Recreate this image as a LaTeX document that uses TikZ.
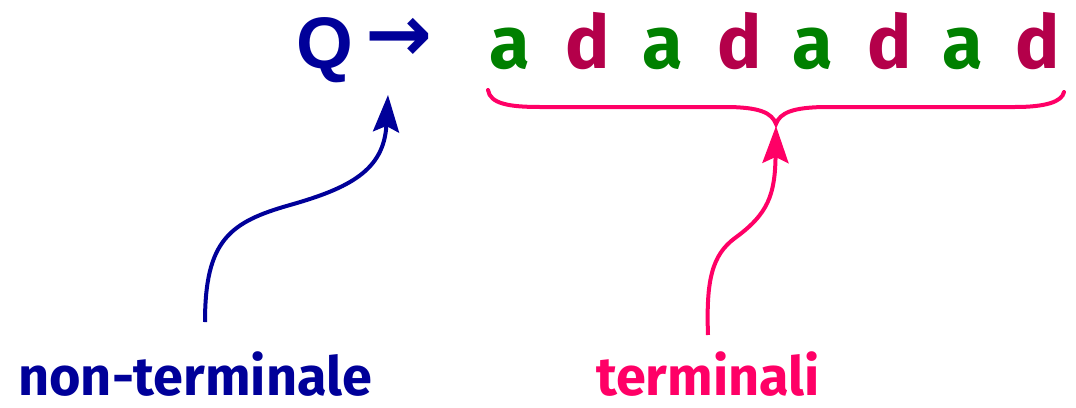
\documentclass[tikz,border=0pt]{standalone}
\usepackage{fontspec}
\setmainfont{Fira Sans}
\newfontfamily\qfont{Liberation Sans}
\newfontfamily\arrfont{DejaVu Sans}
\usetikzlibrary{arrows.meta}
\definecolor{navy}{HTML}{000099}
\definecolor{tgreen}{HTML}{008000}
\definecolor{tcrim}{HTML}{B4004A}
\definecolor{tpink}{HTML}{FF0066}
\tikzset{
  letter/.style={anchor=base, inner sep=0pt, font=\fontsize{74}{80}\selectfont\bfseries},
  lta/.style={letter, text=tgreen},
  ltd/.style={letter, text=tcrim},
  lbl/.style={anchor=base, inner sep=0pt, font=\fontsize{54}{60}\selectfont\bfseries},
  conn/.style={line width=4pt, -{Stealth[length=37pt, width=26pt, inset=6pt]}},
}
\begin{document}
\begin{tikzpicture}[x=1pt,y=-1pt]
\useasboundingbox (0,0) rectangle (1076,407);
\node[anchor=base, inner sep=0pt, text=navy, font=\fontsize{73}{80}\selectfont\bfseries\qfont] (Q) at (325,68) {Q};
\node[anchor=center, inner sep=0pt, text=navy, font=\fontsize{80}{86}\selectfont\bfseries\arrfont] (arr) at (399,40) {→};
\node[lta] (a1) at (510,68) {a};
\node[ltd] (d1) at (588,68) {d};
\node[lta] (a2) at (663,68) {a};
\node[ltd] (d2) at (740,68) {d};
\node[lta] (a3) at (813,68) {a};
\node[ltd] (d3) at (890,68) {d};
\node[lta] (a4) at (963,68) {a};
\node[ltd] (d4) at (1038,68) {d};
% brace
\draw[tpink, line width=4pt, line cap=round]
  (488,90) .. controls (490,104) and (510,107) .. (540,107) -- (725,107)
  .. controls (760,107) and (772,113) .. (776,124)
  .. controls (780,113) and (792,107) .. (828,107) -- (1015,107)
  .. controls (1045,107) and (1062,102) .. (1064,92);
\coordinate (bracetip) at (776,126);
% labels
\node[lbl, text=navy] (nt) at (195,395) {non-terminale};
\node[lbl, text=tpink] (t) at (708,395) {terminali};
\coordinate (ntstart) at (205,322);
\coordinate (tstart) at (708,335);
\coordinate (qtip) at (388,95);
\draw[conn, navy] (ntstart) .. controls (205,240) and (230,222) .. (290,205)
  .. controls (350,188) and (384,170) .. (qtip);
\draw[conn, tpink] (tstart) .. controls (706,280) and (712,255) .. (735,238)
  .. controls (768,214) and (775,195) .. (bracetip);
\end{tikzpicture}
\end{document}
